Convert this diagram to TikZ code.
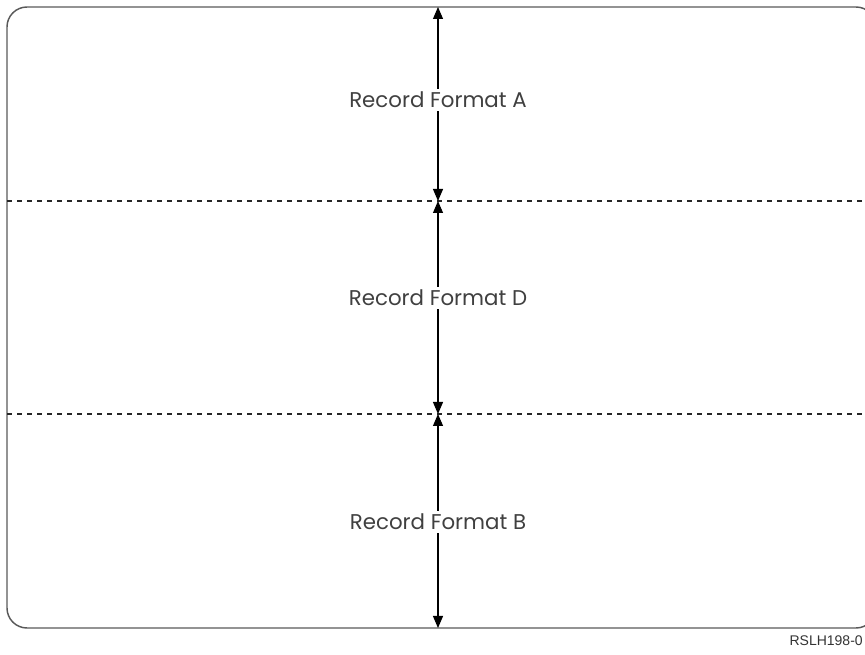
\documentclass[tikz,border=0pt]{standalone}
\usepackage{fontspec}
\setmainfont{Poppins}
\newfontfamily\labfont{Liberation Sans}
\usetikzlibrary{arrows.meta}
\begin{document}
\begin{tikzpicture}[x=0.75pt,y=-0.75pt,
  boxline/.style={draw=black!65, line width=1.1pt},
  divline/.style={draw=black!85, line width=0.8pt, dash pattern=on 4pt off 3.5pt},
  dimarrow/.style={draw=black, line width=0.8pt, {Triangle[width=7.5pt,length=9pt]}-{Triangle[width=7.5pt,length=9pt]}},
  fmtlabel/.style={fill=white, inner sep=2pt, text=black!75, font=\fontsize{16}{19}\selectfont},
  idlabel/.style={text=black!80, font=\labfont\fontsize{10.5}{12}\selectfont, anchor=east, inner sep=0pt}]
\useasboundingbox (0,0) rectangle (865,655);
\begin{scope}
\clip (0,0) rectangle (865,655);
\draw[boxline, rounded corners=15pt] (7,7) rectangle (876,628);
\end{scope}
\coordinate (l1) at (7,201);
\coordinate (r1) at (865,201);
\coordinate (l2) at (7,414);
\coordinate (r2) at (865,414);
\draw[divline] (l1) -- (r1);
\draw[divline] (l2) -- (r2);
\coordinate (t0) at (438,7);
\coordinate (t1) at (438,201);
\coordinate (t2) at (438,414);
\coordinate (t3) at (438,628);
\draw[dimarrow] (t0) -- (t1);
\draw[dimarrow] (t1) -- (t2);
\draw[dimarrow] (t2) -- (t3);
\node[fmtlabel] (la) at (438,100) {Record Format A};
\node[fmtlabel] (ld) at (438,298) {Record Format D};
\node[fmtlabel] (lb) at (438,522) {Record Format B};
\node[idlabel] (id) at (863,641) {RSLH198-0};
\end{tikzpicture}
\end{document}
